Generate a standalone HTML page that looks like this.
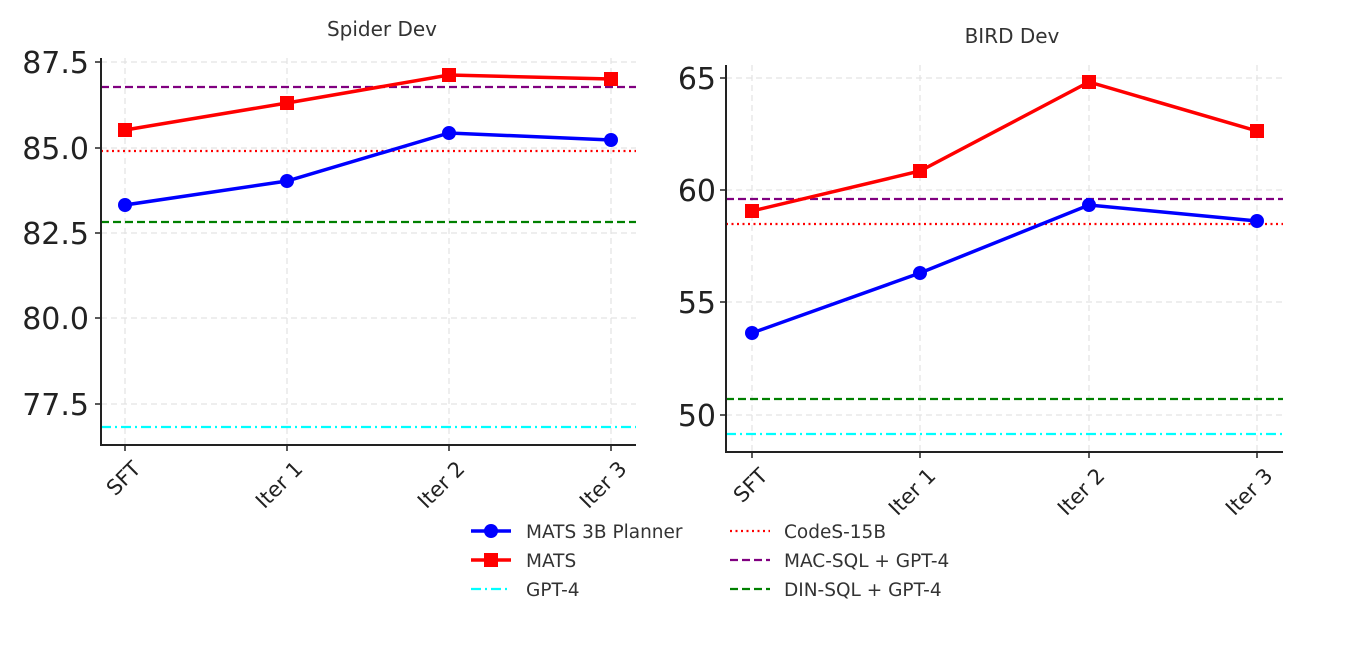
<!DOCTYPE html>
<html><head><meta charset="utf-8"><style>
html,body{margin:0;padding:0;background:#fff;}
svg{display:block;font-family:"DejaVu Sans","Liberation Sans",sans-serif;}
</style></head><body>
<svg width="1346" height="648" viewBox="0 0 1346 648">
<!-- LEFT -->
<g stroke="#e3e3e3" stroke-width="1.2" stroke-dasharray="6,4">
<line x1="101" y1="62" x2="636" y2="62"/><line x1="101" y1="148" x2="636" y2="148"/><line x1="101" y1="233" x2="636" y2="233"/><line x1="101" y1="318" x2="636" y2="318"/><line x1="101" y1="404" x2="636" y2="404"/>
<line x1="125" y1="58" x2="125" y2="445"/><line x1="287" y1="58" x2="287" y2="445"/><line x1="449" y1="58" x2="449" y2="445"/><line x1="611" y1="58" x2="611" y2="445"/>
</g>
<line x1="101" y1="87" x2="636" y2="87" stroke="#800080" stroke-width="2.2" stroke-dasharray="8,4"/>
<line x1="101" y1="151" x2="636" y2="151" stroke="#ff0000" stroke-width="2.2" stroke-dasharray="2,3.5"/>
<line x1="101" y1="222" x2="636" y2="222" stroke="#008000" stroke-width="2.2" stroke-dasharray="8,4"/>
<line x1="101" y1="427" x2="636" y2="427" stroke="#00ffff" stroke-width="2.2" stroke-dasharray="10,4,2,4"/>
<polyline points="125,130 287,103 449,75 611,79" fill="none" stroke="#ff0000" stroke-width="3.5"/>
<g fill="#ff0000"><rect x="118" y="123" width="14" height="14"/><rect x="280" y="96" width="14" height="14"/><rect x="442" y="68" width="14" height="14"/><rect x="604" y="72" width="14" height="14"/></g>
<polyline points="125,205 287,181 449,133 611,140" fill="none" stroke="#0000ff" stroke-width="3.5"/>
<g fill="#0000ff"><circle cx="125" cy="205" r="7"/><circle cx="287" cy="181" r="7"/><circle cx="449" cy="133" r="7"/><circle cx="611" cy="140" r="7"/></g>
<path d="M101,58 V445 H636" fill="none" stroke="#222" stroke-width="2"/>
<g stroke="#222" stroke-width="1.5"><line x1="95" y1="62" x2="101" y2="62"/><line x1="95" y1="148" x2="101" y2="148"/><line x1="95" y1="233" x2="101" y2="233"/><line x1="95" y1="318" x2="101" y2="318"/><line x1="95" y1="404" x2="101" y2="404"/>
<line x1="125" y1="445" x2="125" y2="451"/><line x1="287" y1="445" x2="287" y2="451"/><line x1="449" y1="445" x2="449" y2="451"/><line x1="611" y1="445" x2="611" y2="451"/></g>
<g font-size="30" fill="#222" text-anchor="end"><text x="89" y="73">87.5</text><text x="89" y="159">85.0</text><text x="89" y="244">82.5</text><text x="89" y="329">80.0</text><text x="89" y="415">77.5</text></g>
<g font-size="21" fill="#222" text-anchor="end">
<text transform="translate(142,470) rotate(-45)">SFT</text><text transform="translate(304,470) rotate(-45)">Iter 1</text><text transform="translate(466,470) rotate(-45)">Iter 2</text><text transform="translate(628,470) rotate(-45)">Iter 3</text></g>
<text x="382" y="36" font-size="20" fill="#333" text-anchor="middle">Spider Dev</text>
<!-- RIGHT -->
<g stroke="#e3e3e3" stroke-width="1.2" stroke-dasharray="6,4">
<line x1="726" y1="78" x2="1283" y2="78"/><line x1="726" y1="190" x2="1283" y2="190"/><line x1="726" y1="302" x2="1283" y2="302"/><line x1="726" y1="415" x2="1283" y2="415"/>
<line x1="752" y1="65" x2="752" y2="452"/><line x1="920" y1="65" x2="920" y2="452"/><line x1="1089" y1="65" x2="1089" y2="452"/><line x1="1257" y1="65" x2="1257" y2="452"/>
</g>
<line x1="726" y1="199" x2="1283" y2="199" stroke="#800080" stroke-width="2.2" stroke-dasharray="8,4"/>
<line x1="726" y1="224" x2="1283" y2="224" stroke="#ff0000" stroke-width="2.2" stroke-dasharray="2,3.5"/>
<line x1="726" y1="399" x2="1283" y2="399" stroke="#008000" stroke-width="2.2" stroke-dasharray="8,4"/>
<line x1="726" y1="434" x2="1283" y2="434" stroke="#00ffff" stroke-width="2.2" stroke-dasharray="10,4,2,4"/>
<polyline points="752,211 920,171 1089,82 1257,131" fill="none" stroke="#ff0000" stroke-width="3.5"/>
<g fill="#ff0000"><rect x="745" y="204" width="14" height="14"/><rect x="913" y="164" width="14" height="14"/><rect x="1082" y="75" width="14" height="14"/><rect x="1250" y="124" width="14" height="14"/></g>
<polyline points="752,333 920,273 1089,205 1257,221" fill="none" stroke="#0000ff" stroke-width="3.5"/>
<g fill="#0000ff"><circle cx="752" cy="333" r="7"/><circle cx="920" cy="273" r="7"/><circle cx="1089" cy="205" r="7"/><circle cx="1257" cy="221" r="7"/></g>
<path d="M726,65 V452 H1283" fill="none" stroke="#222" stroke-width="2"/>
<g stroke="#222" stroke-width="1.5"><line x1="720" y1="78" x2="726" y2="78"/><line x1="720" y1="190" x2="726" y2="190"/><line x1="720" y1="302" x2="726" y2="302"/><line x1="720" y1="415" x2="726" y2="415"/>
<line x1="752" y1="452" x2="752" y2="458"/><line x1="920" y1="452" x2="920" y2="458"/><line x1="1089" y1="452" x2="1089" y2="458"/><line x1="1257" y1="452" x2="1257" y2="458"/></g>
<g font-size="30" fill="#222" text-anchor="end"><text x="716" y="89">65</text><text x="716" y="201">60</text><text x="716" y="313">55</text><text x="716" y="426">50</text></g>
<g font-size="21" fill="#222" text-anchor="end">
<text transform="translate(769,477) rotate(-45)">SFT</text><text transform="translate(937,477) rotate(-45)">Iter 1</text><text transform="translate(1106,477) rotate(-45)">Iter 2</text><text transform="translate(1274,477) rotate(-45)">Iter 3</text></g>
<text x="1012" y="43" font-size="20" fill="#333" text-anchor="middle">BIRD Dev</text>
<!-- LEGEND -->
<g font-size="18.5" fill="#333">
<line x1="471" y1="531" x2="511" y2="531" stroke="#0000ff" stroke-width="3.5"/><circle cx="491" cy="531" r="7" fill="#0000ff"/><text x="526" y="538">MATS 3B Planner</text>
<line x1="471" y1="560" x2="511" y2="560" stroke="#ff0000" stroke-width="3.5"/><rect x="484" y="553" width="14" height="14" fill="#ff0000"/><text x="526" y="567">MATS</text>
<line x1="471" y1="589" x2="511" y2="589" stroke="#00ffff" stroke-width="2.2" stroke-dasharray="10,4,2,4"/><text x="526" y="596">GPT-4</text>
<line x1="730" y1="531" x2="770" y2="531" stroke="#ff0000" stroke-width="2.2" stroke-dasharray="2,3.5"/><text x="784" y="538">CodeS-15B</text>
<line x1="730" y1="560" x2="770" y2="560" stroke="#800080" stroke-width="2.2" stroke-dasharray="8,4"/><text x="784" y="567">MAC-SQL + GPT-4</text>
<line x1="730" y1="589" x2="770" y2="589" stroke="#008000" stroke-width="2.2" stroke-dasharray="8,4"/><text x="784" y="596">DIN-SQL + GPT-4</text>
</g>
</svg>
</body></html>
